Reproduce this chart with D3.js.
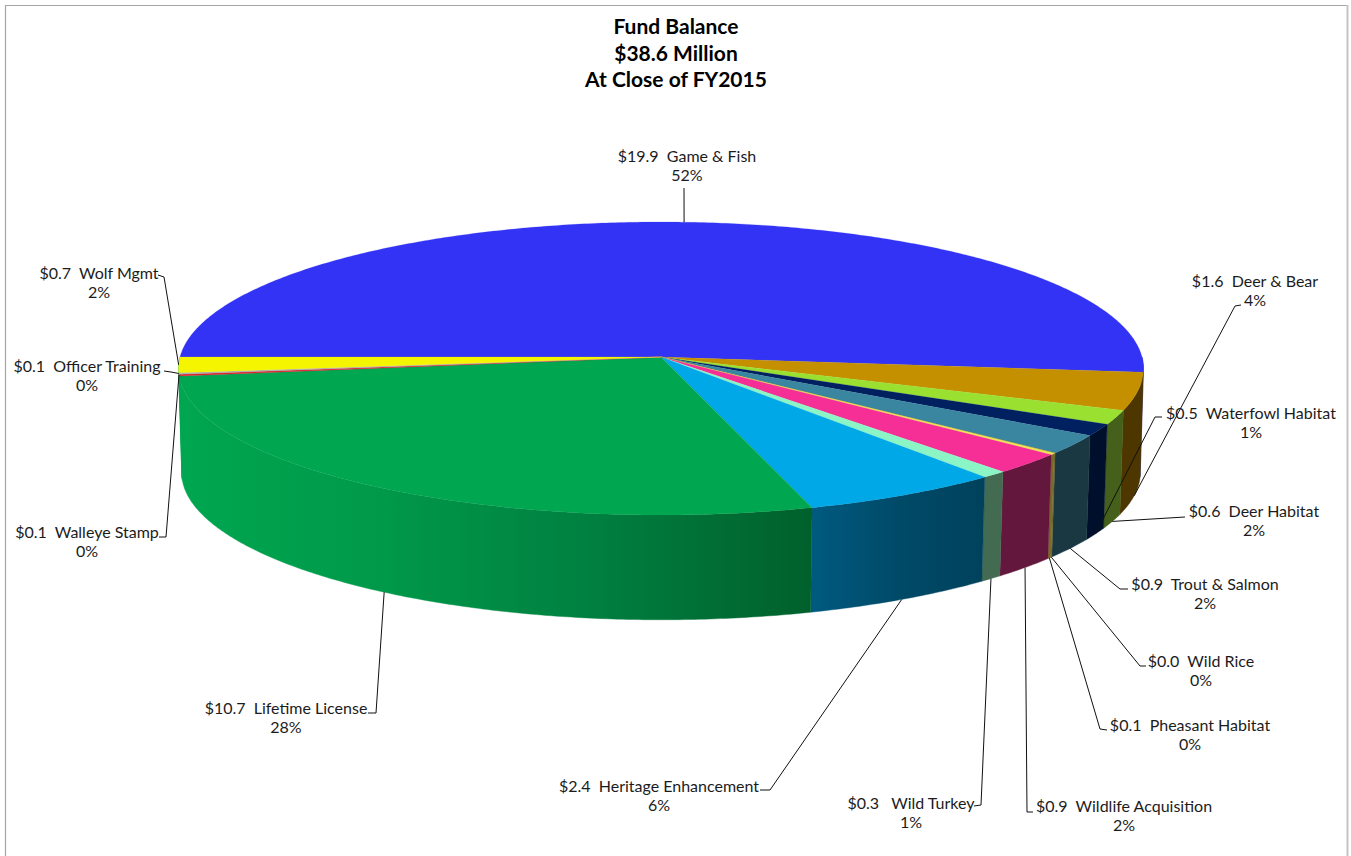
<!DOCTYPE html>
<html>
<head>
<meta charset="utf-8">
<style>
  html, body { margin: 0; padding: 0; background: #fff; }
  svg { display: block; }
  text { font-family: Lato, "Open Sans", sans-serif; fill: #1c1c1c; white-space: pre; }
</style>
<script src="https://cdn.jsdelivr.net/npm/d3@7"></script>
</head>
<body>
<div class="chart"></div>
<script>
var titleLines = ["Fund Balance", "$38.6 Million", "At Close of FY2015"];

// clockwise, starting from the left edge of the pie
var sliceNames = ["Game & Fish", "Deer & Bear", "Deer Habitat", "Waterfowl Habitat", "Trout & Salmon", "Wild Rice",
  "Pheasant Habitat", "Wildlife Acquisition", "Wild Turkey", "Heritage Enhancement", "Lifetime License",
  "Walleye Stamp", "Officer Training", "Wolf Mgmt"];
var sliceValues = [19.9, 1.6, 0.6, 0.5, 0.82, 0.02, 0.06, 0.9, 0.3, 2.39, 10.65, 0.07, 0.06, 0.66];
var amountLabels = ["$19.9", "$1.6", "$0.6", "$0.5", "$0.9", "$0.0", "$0.1", "$0.9", "$0.3", "$2.4", "$10.7", "$0.1", "$0.1", "$0.7"];
var percentLabels = ["52%", "4%", "2%", "1%", "2%", "0%", "0%", "2%", "1%", "6%", "28%", "0%", "0%", "2%"];
var nameGaps = ["  ", "  ", "  ", "  ", "  ", "  ", "  ", "  ", "   ", "  ", "  ", "  ", "  ", "  "];

var topColors = ["#3333f5", "#c49000", "#99e030", "#002060", "#3a86a0", "#b0a040", "#f0e850", "#f52f95",
  "#8cf5c5", "#00a8e8", "#00a650", "#e0202c", "#b0b0b0", "#f5f500"];
var wallColors = ["#1a1a7a", "#4e3600", "#44601a", "#00102c", "#193842", "#6a6030", "#7a6a28", "#64173c",
  "#436b52", "url(#wall-heritage)", "url(#wall-lifetime)", "#00a650", "#00a650", "#00a650"];

// label centre x, first line y, elbow start x/y, elbow end x/y
var labelSpots = [
  [687, 157, 684, 188, 684, 188],
  [1255, 282, 1241, 305, 1235, 306],
  [1254, 512, 1185, 517, 1185, 517],
  [1251, 414, 1162, 417, 1155, 417],
  [1205, 585, 1128, 589, 1120, 589],
  [1201, 662, 1146, 666, 1140, 666],
  [1190, 726, 1107, 730, 1100, 729],
  [1124, 807, 1033, 812, 1027, 812],
  [911, 804, 974, 806, 981, 805],
  [659, 787, 760, 790, 770, 790],
  [286, 709, 368, 713, 376, 713],
  [87, 533, 159, 537, 166, 537],
  [87, 367, 164, 371, 171, 372],
  [99, 274, 158, 275, 164, 277]
];

var width = 1351, height = 856;

var svg = d3.select(".chart").append("svg")
  .attr("width", width)
  .attr("height", height);

var defs = svg.append("defs");

function wallGradient(id, x1, x2, stops) {
  var g = defs.append("linearGradient")
    .attr("id", id)
    .attr("gradientUnits", "userSpaceOnUse")
    .attr("x1", x1).attr("x2", x2).attr("y1", 0).attr("y2", 0);
  stops.forEach(function (s) {
    g.append("stop").attr("offset", s[0]).attr("stop-color", s[1]);
  });
}
wallGradient("wall-lifetime", 180, 812, [[0, "#00a650"], [0.3, "#009a4a"], [0.65, "#008040"], [1, "#00602c"]]);
wallGradient("wall-heritage", 812, 985, [[0, "#005a80"], [0.5, "#004a68"], [1, "#00425c"]]);

// frame
svg.append("path")
  .attr("d", "M5.5,856V5.5H1347")
  .attr("fill", "none").attr("stroke", "#a6a6a6").attr("stroke-width", 1.2);
svg.append("path")
  .attr("d", "M1347.5,5V856")
  .attr("fill", "none").attr("stroke", "#c4c4c4").attr("stroke-width", 2);

// perspective disc, top and bottom faces of the pie
var topFace = { cx: 661, cy: 357, r: 481, a: 145.6, k: 0.0785, kx: 0.0785 };
var baseFace = { cx: 661, cy: 462, r: 478, a: 142, k: 0.1, kx: 0.075 };

// angle is clockwise from north, like d3.pie
function project(face, angle, rad) {
  var u = Math.sin(angle) * rad,
    v = -Math.cos(angle) * rad;
  return [face.cx + face.r * u / (1 - face.kx * v), face.cy + face.a * v / (1 - face.k * v)];
}

function arcPoints(face, a0, a1) {
  var n = Math.max(2, Math.ceil(Math.abs(a1 - a0) / 0.01));
  return d3.range(n + 1).map(function (i) {
    return project(face, a0 + (a1 - a0) * i / n, 1);
  });
}

var pie = d3.pie().sort(null).startAngle(-Math.PI / 2).endAngle(Math.PI * 1.5);
var arcs = pie(sliceValues);
var line = d3.line();

// the walls only show on the near half; the left end is all green in the picture
var walls = svg.append("g");
arcs.forEach(function (d, i) {
  var a0 = Math.max(d.startAngle, Math.PI / 2),
    a1 = Math.min(d.endAngle, Math.PI * 1.5);
  if (a1 <= a0) return;
  var pts = arcPoints(topFace, a0, a1).concat(arcPoints(baseFace, a1, a0));
  walls.append("path")
    .attr("d", line(pts) + "Z")
    .attr("fill", wallColors[i])
    .attr("stroke", wallColors[i])
    .attr("stroke-width", 0.4);
});

var faces = svg.append("g");
arcs.forEach(function (d, i) {
  var pts = [[topFace.cx, topFace.cy]].concat(arcPoints(topFace, d.startAngle, d.endAngle));
  faces.append("path")
    .attr("d", line(pts) + "Z")
    .attr("fill", topColors[i])
    .attr("stroke", topColors[i])
    .attr("stroke-width", i == 5 || i == 6 || i == 11 || i == 12 ? 0.4 : 0.2);
});

// leaders and labels
var leaders = svg.append("g").attr("fill", "none").attr("stroke", "#111").attr("stroke-width", 1);
var labels = svg.append("g").attr("font-size", 16).attr("text-anchor", "middle");

arcs.forEach(function (d, i) {
  var mid = (d.startAngle + d.endAngle) / 2,
    spot = labelSpots[i],
    onTop = mid < Math.PI / 2 || mid > Math.PI * 1.4,
    anchor = project(onTop ? topFace : baseFace, mid, 1);
  leaders.append("path")
    .attr("d", line([[spot[2], spot[3]], [spot[4], spot[5]], anchor]));
  labels.append("text")
    .attr("x", spot[0]).attr("y", spot[1] + 5)
    .text(amountLabels[i] + nameGaps[i] + sliceNames[i]);
  labels.append("text")
    .attr("x", spot[0]).attr("y", spot[1] + 24)
    .text(percentLabels[i]);
});

svg.append("g")
  .selectAll("text")
  .data(titleLines)
  .enter().append("text")
  .attr("x", 676)
  .attr("y", function (d, i) { return 34 + i * 26.5; })
  .attr("text-anchor", "middle")
  .attr("font-size", 21)
  .attr("font-weight", "bold")
  .attr("style", "fill:#000")
  .text(function (d) { return d; });
</script>
</body>
</html>
